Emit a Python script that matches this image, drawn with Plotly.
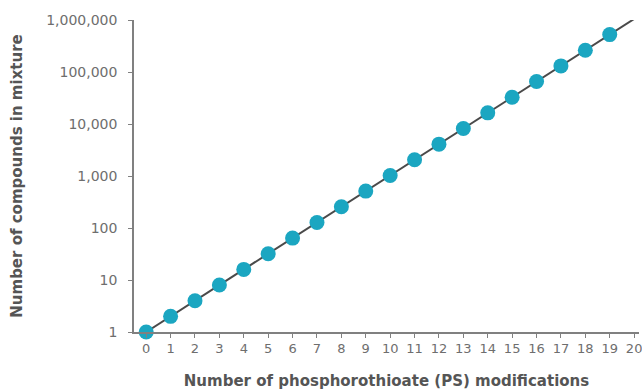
import plotly.graph_objects as go

modifications = list(range(0, 21))
compounds = [2 ** n for n in modifications]
marker_x = modifications[:20]
marker_y = compounds[:20]
ytick_vals = [1, 10, 100, 1000, 10000, 100000, 1000000]
ytick_text = ["1", "10", "100", "1,000", "10,000", "100,000", "1,000,000"]

fig = go.Figure()
fig.add_trace(go.Scatter(x=modifications, y=compounds, mode="lines",
                         line=dict(color="#4a4a4a", width=2), hoverinfo="skip"))
fig.add_trace(go.Scatter(x=marker_x, y=marker_y, mode="markers",
                         marker=dict(color="#1ba6c1", size=15, line=dict(width=0)),
                         cliponaxis=False))

font_c = "#6e6e6e"
fam = "'DejaVu Sans', sans-serif"
fig.update_layout(
    width=642, height=392,
    margin=dict(l=134, r=0, t=20, b=60),
    paper_bgcolor="white", plot_bgcolor="white",
    showlegend=False,
    font=dict(family=fam, color=font_c, size=12),
)
fig.update_xaxes(
    range=[-0.5, 20.2], tickmode="array", tickvals=modifications,
    ticktext=[str(v) for v in modifications],
    showline=True, linecolor="#808080", linewidth=1.5,
    ticks="outside", ticklen=4, tickcolor="#808080",
    showgrid=False, zeroline=False,
    ticklabeloverflow="allow",
    tickfont=dict(size=13, color=font_c, family=fam),
    title=dict(text="<b>Number of phosphorothioate (PS) modifications</b>",
               font=dict(size=15, color="#555555", family=fam), standoff=20),
)
fig.update_yaxes(
    type="log", range=[0, 6],
    tickmode="array", tickvals=ytick_vals, ticktext=ytick_text,
    showline=True, linecolor="#808080", linewidth=1.5,
    ticks="outside", ticklen=4, tickcolor="#808080",
    showgrid=False, zeroline=False,
    tickfont=dict(size=14, color=font_c, family=fam),
    ticklabelstandoff=8,
    title=dict(text="<b>Number of compounds in mixture</b>",
               font=dict(size=15, color="#555555", family=fam), standoff=20),
)
fig.write_html("out.html")
